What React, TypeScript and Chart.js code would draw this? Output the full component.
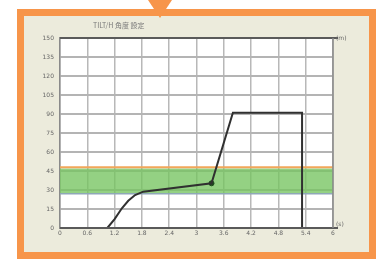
import React, { useEffect, useRef } from "react";
import { Chart, registerables } from "chart.js";

Chart.register(...registerables);

const xTicks = [0, 0.6, 1.2, 1.8, 2.4, 3, 3.6, 4.2, 4.8, 5.4, 6];
const yTicks = [0, 15, 30, 45, 60, 75, 90, 105, 120, 135, 150];
const curveX = [1.04, 1.2, 1.36, 1.5, 1.65, 1.83, 3.33, 3.8, 5.32, 5.32];
const curveY = [0, 7, 15.6, 21.5, 26, 28.7, 35.3, 91, 91, 0];
const markerX = [3.33];
const markerY = [35.3];
const bandLow = [27];
const bandHigh = [47];
const upperLimit = [48];
const titleText = "TILT/H 角度 設定";
const yUnit = "(m)";
const xUnit = "(s)";

const decorPlugin = {
  id: "decor",
  beforeDatasetsDraw(chart: any) {
    const { ctx, chartArea: a, scales } = chart;
    const y = scales.y;
    ctx.save();
    const yTop = y.getPixelForValue(bandHigh[0]);
    const yBot = y.getPixelForValue(bandLow[0]);
    ctx.fillStyle = "rgba(118, 196, 96, 0.78)";
    ctx.fillRect(a.left, yTop, a.right - a.left, yBot - yTop);
    const yL = y.getPixelForValue(upperLimit[0]);
    ctx.strokeStyle = "#f2a65a";
    ctx.lineWidth = 2;
    ctx.beginPath();
    ctx.moveTo(a.left, yL);
    ctx.lineTo(a.right, yL);
    ctx.stroke();
    ctx.strokeStyle = "#8fa8b8";
    ctx.lineWidth = 1.5;
    ctx.beginPath();
    ctx.moveTo(a.left, yBot);
    ctx.lineTo(a.right, yBot);
    ctx.stroke();
    ctx.restore();
  },
  beforeDraw(chart: any) {
    const { ctx, chartArea: a } = chart;
    ctx.save();
    ctx.fillStyle = "#ffffff";
    ctx.fillRect(a.left, a.top, a.right - a.left, a.bottom - a.top);
    ctx.restore();
  },
  afterDraw(chart: any) {
    const { ctx, chartArea: a } = chart;
    ctx.save();
    ctx.strokeStyle = "#5a5a5a";
    ctx.lineWidth = 2;
    ctx.beginPath();
    ctx.moveTo(a.left, a.top);
    ctx.lineTo(a.right + 5, a.top);
    ctx.stroke();
    ctx.beginPath();
    ctx.moveTo(a.left, a.bottom);
    ctx.lineTo(a.right + 5, a.bottom);
    ctx.stroke();
    ctx.strokeStyle = "#8a8a8a";
    ctx.lineWidth = 1.5;
    ctx.beginPath();
    ctx.moveTo(a.right, a.top);
    ctx.lineTo(a.right, a.bottom);
    ctx.stroke();
    ctx.fillStyle = "#666";
    ctx.font = "6px 'DejaVu Sans'";
    ctx.textBaseline = "middle";
    ctx.textAlign = "left";
    ctx.fillText(yUnit, a.right + 3, a.top);
    ctx.fillText(xUnit, a.right + 3, a.bottom - 4);
    ctx.fillStyle = "#7a7a7a";
    ctx.font = "7px 'Noto Sans CJK JP'";
    ctx.fillText(titleText, 93, 25);
    ctx.restore();
  },
};

export default function App() {
  const ref = useRef<HTMLCanvasElement>(null);
  useEffect(() => {
    const chart = new Chart(ref.current!, {
      type: "scatter",
      data: {
        datasets: [
          {
            data: curveX.map((x, i) => ({ x, y: curveY[i] })),
            showLine: true,
            borderColor: "#303030",
            borderWidth: 2,
            pointRadius: 0,
            tension: 0,
          },
          {
            data: markerX.map((x, i) => ({ x, y: markerY[i] })),
            pointRadius: 2.5,
            backgroundColor: "#1f4a1f",
            borderColor: "#1f4a1f",
          },
        ],
      },
      options: {
        animation: false,
        responsive: false,
        maintainAspectRatio: false,
        layout: { padding: { left: 0, right: 50, top: 38, bottom: 0 } },
        plugins: { legend: { display: false }, tooltip: { enabled: false } },
        scales: {
          x: {
            type: "linear",
            min: 0,
            max: 6,
            afterBuildTicks: (s: any) => {
              s.ticks = xTicks.map((v) => ({ value: v }));
            },
            afterFit: (s: any) => {
              s.height = 32;
            },
            ticks: {
              color: "#666",
              font: { size: 6, family: "'DejaVu Sans'" },
              padding: 2,
              maxRotation: 0,
              autoSkip: false,
              callback: (v: any) => String(v),
            },
            grid: { color: "#b8b8b8", lineWidth: 1.5, drawTicks: false },
            border: { display: false },
          },
          y: {
            type: "linear",
            min: 0,
            max: 150,
            afterBuildTicks: (s: any) => {
              s.ticks = yTicks.map((v) => ({ value: v }));
            },
            afterFit: (s: any) => {
              s.width = 60;
            },
            ticks: {
              color: "#666",
              font: { size: 6, family: "'DejaVu Sans'" },
              padding: 6,
              autoSkip: false,
              callback: (v: any) => String(v),
            },
            grid: { color: "#b4b4b4", lineWidth: 2, drawTicks: false },
            border: { display: true, color: "#8a8a8a", width: 1.5 },
          },
        },
      },
      plugins: [decorPlugin],
    } as any);
    return () => chart.destroy();
  }, []);

  return (
    <div style={{ position: "fixed", left: 0, top: 0, width: 383, height: 260, background: "#fff", overflow: "hidden" }}>
      <div
        style={{
          position: "absolute",
          left: 17,
          top: 9,
          width: 345,
          height: 236,
          border: "7px solid #f7954a",
          background: "#ecebdc",
        }}
      />
      <div
        style={{
          position: "absolute",
          left: 148,
          top: 0,
          width: 0,
          height: 0,
          borderLeft: "12.5px solid transparent",
          borderRight: "12.5px solid transparent",
          borderTop: "18px solid #f7954a",
        }}
      />
      <canvas ref={ref} width={383} height={260} style={{ position: "absolute", left: 0, top: 0 }} />
    </div>
  );
}
